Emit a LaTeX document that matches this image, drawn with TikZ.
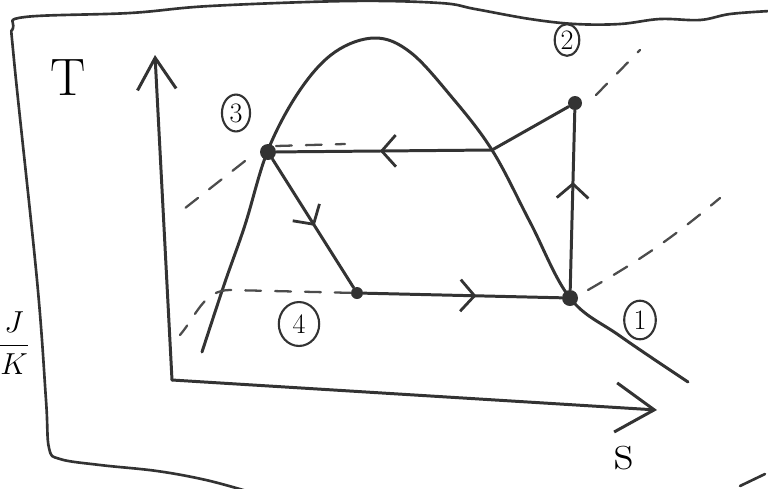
\documentclass[tikz,border=0pt]{standalone}
\usetikzlibrary{positioning, arrows.meta, shapes.geometric, decorations.markings}
\tikzstyle{state_dot}=[circle, fill=black!80, inner sep=0pt, minimum size=3.2mm]
\tikzstyle{state_label}=[ellipse, draw=black!80, line width=1.2pt, inner sep=0pt, font=\fontsize{16}{16}\selectfont]
\tikzstyle{pen}=[line width=1.7pt, black!80, line cap=round, line join=round]
\tikzstyle{dash_pen}=[line width=1.3pt, black!70, dash pattern=on 9pt off 8pt, line cap=round]
\tikzset{flow/.style={postaction={decorate}, decoration={markings, mark=at position #1 with {\arrow[line width=1.6pt]{Straight Barb[length=8pt, width=18pt]}}}}}

\begin{document}
\begin{tikzpicture}[x=0.02cm, y=-0.02cm]
    \useasboundingbox (0,0) rectangle (768,488);

    % frame
    \draw[pen, line width=1.5pt] plot[smooth, tension=0.6] coordinates {(770,11) (730,14) (700,20) (660,19) (620,24) (575,24) (530,19) (475,9) (440,3) (350,1) (210,6) (130,13) (25,17) (13,28) (14,60) (37,280) (46,400) (49,448) (60,459) (100,465) (157,471) (206,480) (250,492)};
    \draw[pen, line width=1.5pt] (740,486) -- (765,474);

    % axes
    \coordinate (origin) at (172,380);
    \coordinate (t_tip) at (155,55);
    \coordinate (s_tip) at (657,410);
    \draw[pen, -{Straight Barb[length=18pt, width=22pt]}] (origin) -- (t_tip);
    \draw[pen, -{Straight Barb[length=22pt, width=28pt]}] (origin) -- (s_tip);

    \node[font=\fontsize{30}{30}\selectfont] at (68,78) (t_label) {T};
    \node[font=\fontsize{30}{30}\selectfont] at (624,458) (s_label) {s};
    \node[font=\fontsize{18}{18}\selectfont, inner sep=0pt] at (14,343) (unit_label) {$\displaystyle\frac{J}{K}$};

    % saturation dome
    \draw[pen] plot[smooth, tension=0.6] coordinates {(202,352) (224,285) (245,225) (268,150) (300,90) (335,52) (375,38) (410,52) (450,95) (492,150) (530,222) (570,298) (620,336) (688,382)};

    % states
    \node[state_dot] at (268,152) (p3) {};
    \node[state_dot, minimum size=2.8mm] at (575,103) (p2) {};
    \node[state_dot] at (570,298) (p1) {};
    \node[state_dot, minimum size=2.4mm] at (357,293) (p4) {};
    \coordinate (kn) at (492,150);

    \node[state_label, minimum width=16pt, minimum height=21pt] at (236,113) (n3) {3};
    \node[state_label, minimum width=14pt, minimum height=18pt] at (567,40) (n2) {2};
    \node[state_label, minimum width=18pt, minimum height=22pt] at (640,320) (n1) {1};
    \node[state_label, minimum width=23pt, minimum height=25pt] at (299,324) (n4) {4};

    % cycle
    \draw[pen, flow=0.6] (p1) -- (p2);
    \draw[pen] (p2) -- (kn);
    \draw[pen, flow=0.52] (kn) -- (p3);
    \draw[pen, flow=0.52] (p3) -- (p4);
    \draw[pen, flow=0.57] (p4) -- (p1);

    % isobars
    \coordinate (d3a) at (276,146);
    \coordinate (d3b) at (345,144);
    \coordinate (d3c) at (245,161);
    \coordinate (d3d) at (175,216);
    \coordinate (d4a) at (180,335);
    \coordinate (d1a) at (588,290);
    \coordinate (d1b) at (720,198);
    \coordinate (d2a) at (596,95);
    \coordinate (d2b) at (640,50);
    \draw[dash_pen] (d3a) -- (d3b);
    \draw[dash_pen] (d3c) -- (d3d);
    \draw[dash_pen] (p4) -- (230,290) to[out=180, in=50] (d4a);
    \draw[dash_pen] (d1a) to[out=30, in=-140] (d1b);
    \draw[dash_pen] (d2a) -- (d2b);
\end{tikzpicture}
\end{document}
